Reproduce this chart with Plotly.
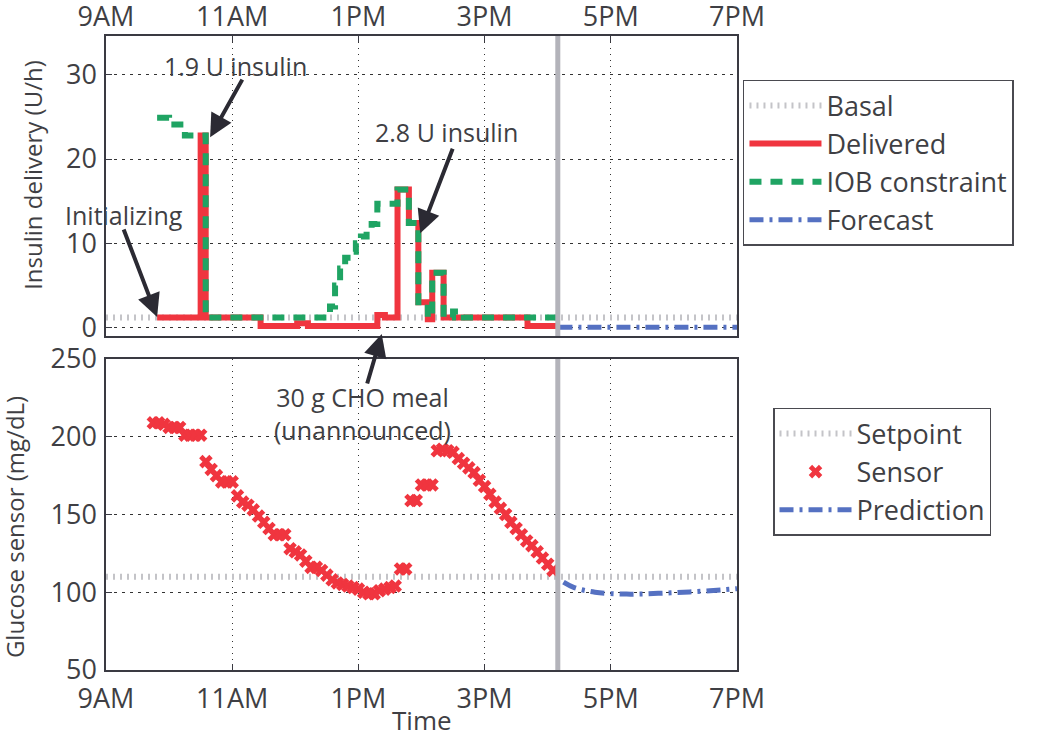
import plotly.graph_objects as go

# ---------------- data ----------------
tick_hours = [9, 11, 13, 15, 17, 19]
tick_labels = ["9AM", "11AM", "1PM", "3PM", "5PM", "7PM"]

basal_t = [9.0, 19.0]
basal_v = [1.2, 1.2]

delivered_t = [9.81, 10.5, 10.58, 11.45, 12.03, 12.2, 13.3, 13.42, 13.62, 13.8,
               13.95, 14.1, 14.17, 14.35, 15.68, 16.17]
delivered_v = [1.2, 22.8, 1.2, 0.2, 0.5, 0.2, 1.5, 1.2, 16.4, 12.4,
               3.0, 1.0, 6.5, 1.2, 0.2, 0.2]

iob_t = [9.81, 10.0, 10.25, 10.58, 12.55, 12.63, 12.71, 12.79, 12.88, 12.96,
         13.04, 13.13, 13.21, 13.3, 13.62, 13.8, 13.95, 14.1, 14.17, 14.35,
         14.5, 14.67, 16.17]
iob_v = [24.9, 24.1, 22.8, 1.2, 2.5, 5.0, 7.0, 8.3, 9.0, 10.0,
         10.8, 11.5, 12.3, 14.7, 16.4, 12.4, 3.0, 1.2, 6.5, 1.2,
         1.9, 1.2, 1.2]

forecast_t = [16.17, 19.0]
forecast_v = [0.05, 0.05]

setpoint_t = [9.0, 19.0]
setpoint_v = [110, 110]

sensor_clock = ["9:45", "9:50", "9:55", "10:00", "10:05", "10:10", "10:15", "10:20",
                "10:25", "10:30", "10:35", "10:40", "10:45", "10:50", "10:55", "11:00",
                "11:05", "11:10", "11:15", "11:20", "11:25", "11:30", "11:35", "11:40",
                "11:45", "11:50", "11:55", "12:00", "12:05", "12:10", "12:15", "12:20",
                "12:25", "12:30", "12:35", "12:40", "12:45", "12:50", "12:55", "13:00",
                "13:05", "13:10", "13:15", "13:20", "13:25", "13:30", "13:35", "13:40",
                "13:45", "13:50", "13:55", "14:00", "14:05", "14:10", "14:15", "14:20",
                "14:25", "14:30", "14:35", "14:40", "14:45", "14:50", "14:55", "15:00",
                "15:05", "15:10", "15:15", "15:20", "15:25", "15:30", "15:35", "15:40",
                "15:45", "15:50", "15:55", "16:00", "16:05"]
sensor_v = [209, 209, 208, 206, 206, 206, 201, 201,
            201, 201, 184, 179, 175, 171, 171, 171,
            162, 158, 156, 153, 149, 145, 141, 137,
            137, 137, 128, 126, 124, 120, 116, 116,
            114, 111, 108, 106, 105, 104, 103, 102,
            100, 99, 99, 101, 102, 103, 104, 115,
            115, 159, 159, 169, 169, 169, 191, 192,
            191, 190, 186, 183, 180, 177, 172, 168,
            163, 158, 154, 150, 145, 141, 137, 133,
            130, 126, 122, 118, 114]

prediction_t = [16.25, 16.42, 16.75, 17.25, 17.75, 18.25, 18.75, 19.0]
prediction_v = [106.5, 103.0, 100.0, 98.8, 99.3, 100.2, 101.5, 102.3]

controller_start = 16.16


def to_hours(s):
    h, m = s.split(":")
    return int(h) + int(m) / 60.0


sensor_t = [to_hours(s) for s in sensor_clock]

# ---------------- style ----------------
FONT = "Open Sans"
TXT = "#3f3f44"
RED = "#f0353f"
GREEN = "#1fa463"
BLUE = "#5571c2"
GRAY = "#c4c4c8"
VGRAY = "#b3b3ba"
AX = "#3a3a42"

fig = go.Figure()

fig.add_trace(go.Scatter(x=basal_t, y=basal_v, name="Basal", mode="lines",
                         line=dict(color=GRAY, width=6, dash="2px,5px"),
                         xaxis="x", yaxis="y", legend="legend"))
fig.add_trace(go.Scatter(x=delivered_t, y=delivered_v, name="Delivered", mode="lines",
                         line=dict(color=RED, width=6, shape="hv"),
                         xaxis="x", yaxis="y", legend="legend"))
fig.add_trace(go.Scatter(x=iob_t, y=iob_v, name="IOB constraint", mode="lines",
                         line=dict(color=GREEN, width=6, shape="hv", dash="12px,9px"),
                         xaxis="x", yaxis="y", legend="legend"))
fig.add_trace(go.Scatter(x=forecast_t, y=forecast_v, name="Forecast", mode="lines",
                         line=dict(color=BLUE, width=5, dash="14px,6px,3px,6px"),
                         xaxis="x", yaxis="y", legend="legend"))

fig.add_trace(go.Scatter(x=setpoint_t, y=setpoint_v, name="Setpoint", mode="lines",
                         line=dict(color=GRAY, width=6, dash="2px,5px"),
                         xaxis="x2", yaxis="y2", legend="legend2"))
fig.add_trace(go.Scatter(x=sensor_t, y=sensor_v, name="Sensor", mode="markers",
                         marker=dict(symbol="x", size=12, color=RED, line=dict(width=0)),
                         xaxis="x2", yaxis="y2", legend="legend2"))
fig.add_trace(go.Scatter(x=prediction_t, y=prediction_v, name="Prediction", mode="lines",
                         line=dict(color=BLUE, width=5, dash="14px,6px,3px,6px", shape="spline"),
                         xaxis="x2", yaxis="y2", legend="legend2"))

axis_common = dict(
    range=[9, 19], tickvals=tick_hours, ticktext=tick_labels,
    showgrid=True, gridcolor="#333333", gridwidth=1, griddash="1px,5px",
    showline=True, linecolor=AX, linewidth=1.5, mirror=True,
    ticks="inside", ticklen=6, tickcolor=AX, zeroline=False, automargin=False,
    tickfont=dict(family=FONT, size=27, color=TXT),
)
yaxis_common = dict(
    showgrid=True, gridcolor="#333333", gridwidth=1, griddash="3px,5px",
    showline=True, linecolor=AX, linewidth=1.5, mirror=True,
    ticks="inside", ticklen=6, tickcolor=AX, zeroline=False, automargin=False,
    ticklabelstandoff=2,
    tickfont=dict(family=FONT, size=27, color=TXT),
)

LEG_FONT = dict(family=FONT, size=27, color=TXT)

fig.update_layout(
    width=1050, height=731,
    margin=dict(l=106, r=313, t=36, b=61),
    paper_bgcolor="white", plot_bgcolor="white",
    showlegend=True,
    xaxis=dict(axis_common, anchor="y", side="top", showticklabels=True,
               ticklabelstandoff=-3),
    yaxis=dict(yaxis_common, domain=[0.5268, 1.0], range=[-1, 34.6],
               tickvals=[0, 10, 20, 30], anchor="x"),
    xaxis2=dict(axis_common, anchor="y2", side="bottom", ticklabelstandoff=4),
    yaxis2=dict(yaxis_common, domain=[0.0, 0.4905], range=[50, 250],
                tickvals=[50, 100, 150, 200, 250], anchor="x2"),
    legend=dict(xref="container", yref="container", x=0.7076, y=0.8906,
                xanchor="left", yanchor="top", itemwidth=72,
                bordercolor="#4a4a50", borderwidth=1.5, bgcolor="white",
                font=LEG_FONT, tracegroupgap=0),
    legend2=dict(xref="container", yref="container", x=0.7362, y=0.4419,
                 xanchor="left", yanchor="top", itemwidth=72,
                 bordercolor="#4a4a50", borderwidth=1.5, bgcolor="white",
                 font=LEG_FONT, tracegroupgap=0),
)

# vertical gray line marking the controller start
fig.add_shape(type="line", x0=controller_start, x1=controller_start, y0=0, y1=1,
              xref="x", yref="y domain", line=dict(color=VGRAY, width=5))
fig.add_shape(type="line", x0=controller_start, x1=controller_start, y0=0, y1=1,
              xref="x2", yref="y2 domain", line=dict(color=VGRAY, width=5))

ANN_FONT = dict(family=FONT, size=25, color=TXT)
ARROW = "#2b2a33"

# text labels
fig.add_annotation(x=11.06, y=31.1, xref="x", yref="y", text="1.9 U insulin",
                   showarrow=False, font=ANN_FONT)
fig.add_annotation(x=9.285, y=13.4, xref="x", yref="y", text="Initializing",
                   showarrow=False, font=ANN_FONT)
fig.add_annotation(x=14.39, y=23.2, xref="x", yref="y", text="2.8 U insulin",
                   showarrow=False, font=ANN_FONT)
fig.add_annotation(x=13.06, y=215, xref="x2", yref="y2",
                   text="30 g CHO meal<br>(unannounced)",
                   showarrow=False, font=ANN_FONT)

# arrows
for (tx, ty, ax, ay) in [(10.65, 22.6, 33, -59),
                         (9.81, 1.26, -34, -89),
                         (13.98, 11.2, 33, -86),
                         (13.37, -0.76, -15, 51)]:
    fig.add_annotation(x=tx, y=ty, xref="x", yref="y", text="", showarrow=True,
                       ax=ax, ay=ay, arrowhead=2, arrowsize=1.15, arrowwidth=4,
                       arrowcolor=ARROW, standoff=0)

# axis titles
fig.add_annotation(x=-0.1157, y=0.781, xref="paper", yref="paper",
                   xanchor="center", yanchor="middle",
                   text="Insulin delivery (U/h)", textangle=-90, showarrow=False,
                   font=dict(family=FONT, size=24, color=TXT))
fig.add_annotation(x=-0.144, y=0.2256, xref="paper", yref="paper",
                   xanchor="center", yanchor="middle",
                   text="Glucose sensor (mg/dL)", textangle=-90, showarrow=False,
                   font=dict(family=FONT, size=24, color=TXT))
fig.add_annotation(x=0.5, y=-0.0789, xref="paper", yref="paper",
                   xanchor="center", yanchor="middle", text="Time",
                   showarrow=False, font=dict(family=FONT, size=26, color=TXT))

# remove the default 8px page margin so the figure fills the window exactly
fig.write_html("out.html",
               config={"displayModeBar": False},
               post_script="document.body.style.margin='0';"
                           "document.documentElement.style.overflow='hidden';")
